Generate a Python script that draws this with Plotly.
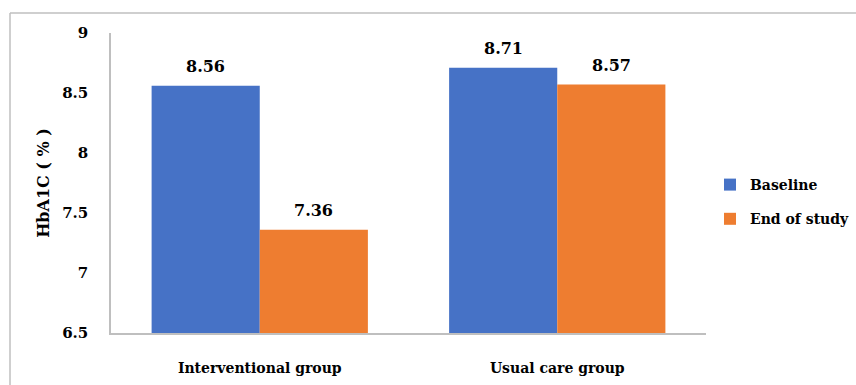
import plotly.graph_objects as go

categories = ["Interventional group", "Usual care group"]
baseline = [8.56, 8.71]
end_of_study = [7.36, 8.57]
y_ticks = [6.5, 7, 7.5, 8, 8.5, 9]
y_tick_labels = ["6.5", "7", "7.5", "8", "8.5", "9"]

FONT = "'DejaVu Serif', serif"
L, R, T, B = 111, 150, 33, 52
W, H = 856, 385
pw, ph = W - L - R, H - T - B
BASE = 6.5

fig = go.Figure()
fig.add_trace(go.Bar(
    name="Baseline", x=categories, y=[v - BASE for v in baseline], base=BASE,
    marker=dict(color="#4672C6", line=dict(width=0)),
    legendgroup="a", offsetgroup="a",
))
fig.add_trace(go.Bar(
    name="End of study", x=categories, y=[v - BASE for v in end_of_study], base=BASE,
    marker=dict(color="#EE7D30", line=dict(width=0)),
    legendgroup="b", offsetgroup="b",
))

def px_x(x):
    return (x - L) / pw

def px_y(y):
    return (H - B - y) / ph

annotations = []
group_w = 1 - 0.273
for ci, cat in enumerate(categories):
    for si, vals in enumerate([baseline, end_of_study]):
        off = (-0.25 + 0.5 * si) * group_w
        annotations.append(dict(
            x=ci + off, y=vals[ci], xref="x", yref="y",
            text=f"{vals[ci]:.2f}", showarrow=False,
            yanchor="bottom", yshift=8,
            font=dict(family=FONT, size=16, color="#000000", weight="bold"),
        ))

fig.update_layout(
    width=W, height=H,
    margin=dict(l=L, r=R, t=T, b=B, pad=0, autoexpand=False),
    paper_bgcolor="white", plot_bgcolor="white",
    barmode="group", bargap=0.273, bargroupgap=0,
    font=dict(family=FONT, size=15, color="#000000"),
    showlegend=True,
    legend=dict(
        x=px_x(710), y=px_y(202), xanchor="left", yanchor="middle",
        font=dict(family=FONT, size=14, color="#000000", weight="bold"),
        traceorder="grouped", tracegroupgap=13,
        itemwidth=30, bgcolor="rgba(0,0,0,0)",
    ),
    xaxis=dict(
        type="category",
        showline=True, linecolor="#BFBFBF", linewidth=1.5,
        ticks="", showgrid=False,
        tickfont=dict(family=FONT, size=14, color="#000000", weight="bold"),
        ticklabelstandoff=21,
    ),
    yaxis=dict(
        range=[6.5, 9], tickvals=y_ticks, ticktext=y_tick_labels,
        showline=True, linecolor="#BFBFBF", linewidth=1.5,
        ticks="", showgrid=False, zeroline=False,
        tickfont=dict(family=FONT, size=15, color="#000000", weight="bold"),
        ticklabelstandoff=18,
        title=dict(text="HbA1C ( % )", font=dict(family=FONT, size=16, color="#000000", weight="bold"), standoff=9),
    ),
    annotations=annotations,
    shapes=[
        dict(type="line", xref="paper", yref="paper",
             x0=px_x(10), x1=px_x(W), y0=px_y(13), y1=px_y(13),
             line=dict(color="#BFBFBF", width=1.5)),
        dict(type="line", xref="paper", yref="paper",
             x0=px_x(10), x1=px_x(10), y0=px_y(13), y1=px_y(H),
             line=dict(color="#BFBFBF", width=1.5)),
    ],
)

fig.write_html("out.html")
